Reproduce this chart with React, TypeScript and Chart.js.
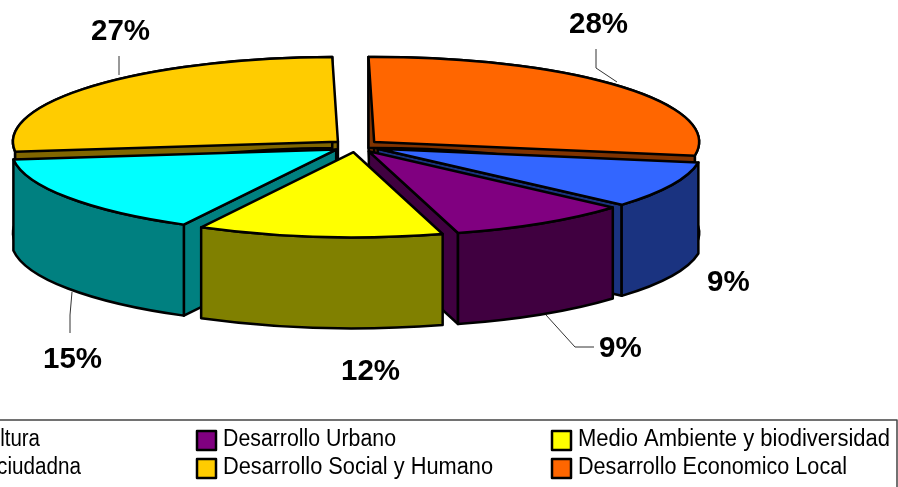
import React, { useEffect, useRef } from "react";
import { Chart, registerables } from "chart.js";

Chart.register(...registerables);

// ---- data (clockwise from twelve o'clock) ----
const categories = [
  "Desarrollo Economico Local",
  "Cultura",
  "Desarrollo Urbano",
  "Medio Ambiente y biodiversidad",
  "Participacion ciudadna",
  "Desarrollo Social y Humano",
];
const shares = [27.9, 8.9, 9.1, 12.2, 15.4, 26.6];
const topColors = ["#FF6600", "#3366FF", "#800080", "#FFFF00", "#00FFFF", "#FFCC00"];
const wallColors = ["#803300", "#1A3380", "#400040", "#808000", "#008080", "#806600"];

// ---- layout of the tilted pie ----
const CX = 356;
const CY = 146;
const RX = 325;
const RY = 85;
const DEPTH = 91;
const EXPLODE = 24;
const OUTLINE = 2.5;
const wallOrder = [5, 0, 4, 1, 2, 3];

// percent labels: [slice, left x, baseline y]
const labelSpots: [number, number, number][] = [
  [5, 91, 40],
  [0, 569, 33],
  [1, 707, 291],
  [2, 599, 357],
  [3, 341, 380],
  [4, 43, 368],
];
const leaders: [number, number][][] = [
  [[119, 56], [119, 75]],
  [[596, 49], [596, 68], [617, 82]],
  [[72, 292], [70, 315], [70, 333]],
  [[546, 315], [575, 347], [594, 347]],
];

// legend: [slice, text x, baseline y, text width, marker x or null, align]
const legendSpots: [number, number, number, number, number | null, CanvasTextAlign][] = [
  [1, 40, 446, 66, null, "right"],
  [4, 81, 474, 208, null, "right"],
  [2, 223, 446, 173, 197, "left"],
  [5, 223, 474, 270, 197, "left"],
  [3, 578, 446, 312, 552, "left"],
  [0, 578, 474, 269, 552, "left"],
];

function geom(arc: any) {
  const mid = (arc.startAngle + arc.endAngle) / 2;
  return {
    x: CX + Math.cos(mid) * EXPLODE,
    y: CY + (Math.sin(mid) * EXPLODE * RY) / RX,
    a0: arc.startAngle,
    a1: arc.endAngle,
  };
}

function wallFaces(ctx: CanvasRenderingContext2D, g: any) {
  const p = (a: number, d = 0): [number, number] => [
    g.x + RX * Math.cos(a),
    g.y + RY * Math.sin(a) + d,
  ];
  const quad = (a: number) => () => {
    ctx.moveTo(g.x, g.y);
    ctx.lineTo(...p(a));
    ctx.lineTo(...p(a, DEPTH));
    ctx.lineTo(g.x, g.y + DEPTH);
    ctx.closePath();
  };
  const faces: (() => void)[] = [];
  // a radial cut only shows when it faces the viewer
  if (Math.sin(g.a0 - Math.PI / 2) > 0) faces.push(quad(g.a0));
  if (Math.sin(g.a1 + Math.PI / 2) > 0) faces.push(quad(g.a1));
  faces.push(() => {
    ctx.moveTo(...p(g.a0));
    ctx.ellipse(g.x, g.y, RX, RY, 0, g.a0, g.a1);
    ctx.lineTo(...p(g.a1, DEPTH));
    ctx.ellipse(g.x, g.y + DEPTH, RX, RY, 0, g.a1, g.a0, true);
    ctx.closePath();
  });
  return faces;
}

const tiltedPie = {
  id: "tiltedPie",
  beforeDatasetDraw(chart: any) {
    const ctx: CanvasRenderingContext2D = chart.ctx;
    const arcs = chart.getDatasetMeta(0).data;
    const line = () => {
      ctx.strokeStyle = "#000";
      ctx.lineWidth = OUTLINE;
      ctx.lineJoin = "round";
    };
    // side walls, back to front
    wallOrder.forEach((i) => {
      const g = geom(arcs[i]);
      wallFaces(ctx, g).forEach((face) => {
        ctx.beginPath();
        face();
        ctx.fillStyle = wallColors[i];
        ctx.fill();
        line();
        ctx.stroke();
      });
    });
    // top faces: the library's arcs, squeezed into the tilted plane
    wallOrder.forEach((i) => {
      const arc = arcs[i];
      const g = geom(arc);
      const sx = RX / arc.outerRadius;
      const sy = RY / arc.outerRadius;
      ctx.save();
      ctx.transform(sx, 0, 0, sy, g.x - arc.x * sx, g.y - arc.y * sy);
      arc.draw(ctx);
      ctx.restore();
      ctx.beginPath();
      ctx.moveTo(g.x, g.y);
      ctx.ellipse(g.x, g.y, RX, RY, 0, g.a0, g.a1);
      ctx.closePath();
      line();
      ctx.stroke();
    });
    return false;
  },
  afterDraw(chart: any) {
    const ctx: CanvasRenderingContext2D = chart.ctx;
    ctx.save();
    // leader lines
    ctx.strokeStyle = "#333";
    ctx.lineWidth = 1;
    leaders.forEach((pts) => {
      ctx.beginPath();
      pts.forEach(([x, y], k) => (k ? ctx.lineTo(x, y) : ctx.moveTo(x, y)));
      ctx.stroke();
    });
    // percent labels
    ctx.fillStyle = "#000";
    ctx.font = 'bold 29.5px "Liberation Sans"';
    ctx.textAlign = "left";
    ctx.textBaseline = "alphabetic";
    labelSpots.forEach(([i, x, y]) => ctx.fillText(Math.round(shares[i]) + "%", x, y));
    // legend frame, running past the left and bottom edges
    ctx.strokeStyle = "#444";
    ctx.lineWidth = 1.5;
    ctx.strokeRect(-20, 420, 917, 100);
    ctx.font = '23.5px "Liberation Sans"';
    legendSpots.forEach(([i, x, y, w, mx, align]) => {
      ctx.fillStyle = "#000";
      ctx.textAlign = align;
      ctx.fillText(categories[i], x, y, w);
      if (mx !== null) {
        ctx.fillStyle = topColors[i];
        ctx.fillRect(mx, y - 15, 19, 19);
        ctx.strokeStyle = "#000";
        ctx.lineWidth = 2.5;
        ctx.strokeRect(mx, y - 15, 19, 19);
      }
    });
    ctx.restore();
  },
};

export default function App() {
  const ref = useRef<HTMLCanvasElement>(null);
  useEffect(() => {
    const chart = new Chart(ref.current!, {
      type: "pie",
      data: {
        labels: categories,
        datasets: [{ data: shares, backgroundColor: topColors, borderWidth: 0, clip: false } as any],
      },
      options: {
        responsive: false,
        animation: false,
        rotation: -1,
        layout: { padding: 0 },
        plugins: { legend: { display: false }, tooltip: { enabled: false } },
      },
      plugins: [tiltedPie],
    } as any);
    return () => chart.destroy();
  }, []);
  return (
    <div style={{ position: "absolute", left: 0, top: 0, width: 898, height: 487, background: "#fff" }}>
      <canvas ref={ref} width={898} height={487} style={{ display: "block" }} />
    </div>
  );
}
